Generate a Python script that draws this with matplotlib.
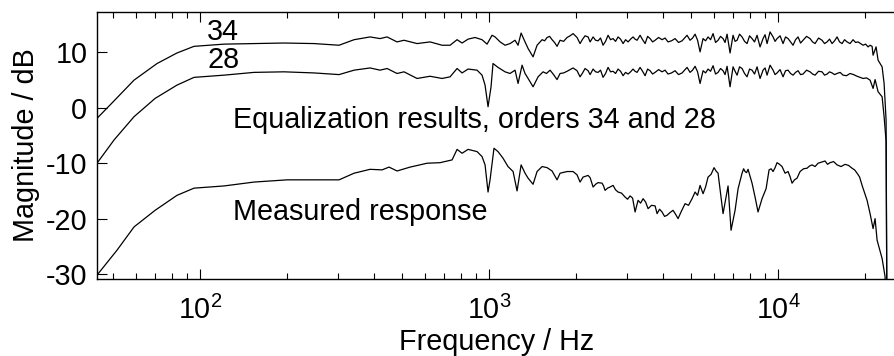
import matplotlib
matplotlib.use("Agg")
import matplotlib.pyplot as plt
from matplotlib.ticker import LogLocator, NullFormatter, FixedLocator

plt.rcParams["font.family"] = ["Liberation Sans", "DejaVu Sans"]
plt.rcParams["mathtext.fontset"] = "custom"
plt.rcParams["mathtext.rm"] = "Liberation Sans"
plt.rcParams["mathtext.it"] = "Liberation Sans:italic"
plt.rcParams["axes.unicode_minus"] = False

# Measured loudspeaker response
meas_hz = [44.0, 51.6, 59.1, 69.9, 83.2, 95.3, 121.1, 153.8, 200, 302.7,
           341.2, 387.5, 426.4, 450.8, 480.5, 533, 610.4, 676.9, 744.8, 775.1,
           806.6, 846, 908.7, 945.7, 968.7, 992.0, 1008, 1040, 1074, 1118,
           1163, 1211, 1250, 1291, 1332, 1365, 1420, 1466, 1526, 1588,
           1652, 1719, 1761, 1862, 1953, 2016, 2065, 2115, 2201, 2237,
           2291, 2383, 2460, 2520, 2622, 2686, 2795, 2955, 3076, 3201,
           3278, 3412, 3550, 3754, 3814, 3968, 4129, 4331, 4508, 4767,
           5040, 5162, 5372, 5502, 5725, 6005, 6200, 6452, 6714, 6876,
           7043, 7100, 7272, 7506, 7688, 7873, 8128, 8325, 8526, 8802,
           9090, 9308, 9610, 9920, 10323, 10573, 10829, 11179, 11633, 11915,
           12599, 13111, 13753, 14540, 15131, 16001, 17053, 18032, 18770, 19532,
           20324, 20815, 21320, 21662, 22012, 22908, 23460, 23646]
meas_db = [-30.2, -25.7, -21.5, -18.5, -15.8, -14.5, -14.1, -13.4, -13.0, -13.0,
           -11.8, -11.1, -11.2, -10.7, -11.4, -10.7, -10.0, -9.9, -9.4, -7.5,
           -8.2, -7.5, -7.9, -8.8, -10.3, -15.2, -13.0, -7.3, -7.9, -9.1,
           -10.6, -11.5, -15.0, -10.3, -11.8, -12.7, -13.8, -11.5, -10.6, -10.8,
           -11.4, -13.0, -11.8, -11.5, -11.5, -12.1, -13.4, -12.5, -12.2, -12.6,
           -14.3, -13.5, -13.6, -14.9, -14.3, -14.0, -15.2, -16.1, -15.9, -18.8,
           -16.7, -16.4, -18.2, -17.7, -19.1, -18.8, -19.4, -18.5, -20.0, -17.3,
           -16.4, -15.2, -14.0, -15.5, -12.5, -10.8, -11.8, -19.1, -14.1, -22.1,
           -19.4, -18.5, -14.6, -11.8, -11.5, -11.1, -13.6, -16.1, -18.8, -16.4,
           -14.6, -11.2, -11.5, -9.9, -10.6, -11.8, -11.5, -13.6, -12.7, -11.5,
           -10.9, -10.3, -10.0, -9.6, -9.9, -10.3, -10.2, -10.9, -11.8, -14.0,
           -16.7, -19.1, -21.8, -20.0, -23.9, -27.2, -30.5, -45.0]
# fine ripple between the main samples
meas_fine_hz = [2337, 2490, 2570, 2740, 2874, 3015, 3138, 3345, 3480, 3650,
                3890, 4048, 4230, 4418, 4635, 4900, 5266, 5612, 5865, 6100,
                7600, 7780, 9460, 9765, 10120, 10450, 11000, 11400, 12250, 12850,
                13430, 14140, 14830, 15560, 16520, 17540, 18400, 19150]
meas_fine_db = [-13.8, -14.1, -14.5, -14.8, -15.4, -16.5, -16.3, -17.2, -17.0, -17.6,
                -18.3, -19.6, -18.9, -19.2, -18.6, -17.6, -15.8, -14.3, -12.0, -11.4,
                -11.0, -11.7, -11.0, -10.8, -10.2, -11.2, -12.4, -13.0, -11.0, -10.5,
                -10.6, -9.8, -10.2, -9.7, -10.6, -10.4, -11.2, -12.5]

# Equalized response, filter order 34
eq34_hz = [44.0, 48.8, 59.1, 71.0, 83.2, 95.3, 121.1, 153.8, 195.3, 248,
           302.7, 341.2, 387.5, 419.6, 443.7, 480.5, 508.0, 563.5, 625.1, 687.8,
           733.1, 775.1, 806.6, 846, 894.3, 945.7, 984.2, 1024, 1049, 1092,
           1136, 1182, 1230, 1260, 1291, 1332, 1365, 1420, 1466, 1526,
           1588, 1652, 1719, 1761, 1862, 1953, 2016, 2065, 2149, 2201,
           2237, 2291, 2383, 2480, 2581, 2686, 2795, 2909, 3027, 3150,
           3252, 3331, 3467, 3608, 3754, 3968, 4162, 4401, 4654, 4843,
           4960, 5162, 5372, 5502, 5725, 5958, 6200, 6452, 6661, 6822,
           6987, 7214, 7506, 7811, 8128, 8459, 8664, 8873, 9162, 9382,
           9610, 9920, 10406, 10829, 11269, 11727, 12204, 12904, 13428, 14197,
           14775, 15376, 16001, 16651, 17328, 18174, 18920, 19687, 20486, 21151,
           21320, 21836, 22187, 22908, 23275, 23646, 23836]
eq34_db = [-1.9, 0.5, 5.0, 8.0, 9.9, 11.1, 11.5, 11.6, 11.7, 11.6,
           11.3, 12.3, 12.8, 12.5, 12.8, 11.9, 12.2, 11.6, 11.9, 11.3,
           11.3, 12.3, 11.7, 12.4, 12.7, 12.3, 11.5, 13.1, 12.8, 11.9,
           11.3, 11.6, 12.2, 11.3, 13.5, 11.9, 10.7, 9.2, 11.3, 12.3,
           12.7, 12.3, 11.1, 12.2, 12.7, 13.4, 12.7, 11.6, 13.0, 12.8,
           11.9, 12.8, 12.1, 11.3, 13.1, 12.5, 12.8, 11.6, 11.9, 12.8,
           12.2, 13.1, 11.6, 12.5, 12.2, 12.3, 11.9, 12.5, 12.1, 13.1,
           12.2, 13.3, 10.1, 12.5, 12.8, 13.4, 12.2, 12.5, 13.3, 9.9,
           13.1, 12.2, 12.8, 11.6, 12.5, 13.1, 11.0, 12.5, 11.6, 13.7,
           12.8, 12.5, 11.6, 12.5, 11.3, 12.8, 12.2, 12.5, 11.6, 12.2,
           11.9, 11.6, 12.8, 11.6, 11.9, 12.3, 11.9, 11.3, 11.0, 11.1,
           9.5, 11.0, 8.6, 7.4, 4.4, -2.2, -45.0]
eq34_fine_hz = [1557, 1620, 1685, 1811, 1907, 2107, 2337, 2431, 2530, 2633,
                2740, 2851, 2967, 3088, 3200, 3398, 3537, 3680, 3860, 4064,
                4280, 4526, 4748, 5060, 5266, 5612, 5840, 6078, 6324, 6555,
                7100, 7358, 7657, 7968, 8292, 9016, 9764, 10160, 10615, 11046,
                11496, 11963, 12549, 13163, 13807, 14483, 15072, 15686, 16323, 16986,
                17746, 18543, 19300, 20083, 20815]
eq34_fine_db = [12.1, 12.9, 11.8, 12.0, 13.0, 12.4, 12.2, 12.6, 12.0, 12.3,
                12.0, 12.4, 12.3, 12.4, 12.4, 12.3, 12.9, 11.9, 12.7, 12.6,
                12.1, 11.8, 12.6, 12.6, 12.2, 12.1, 12.3, 11.8, 12.9, 11.8,
                12.0, 13.3, 12.0, 13.0, 11.9, 13.2, 12.0, 13.0, 12.8, 11.9,
                12.3, 11.7, 12.9, 11.9, 12.6, 11.6, 12.4, 12.1, 11.9, 12.3,
                11.6, 11.8, 11.6, 11.5, 11.3]

# Equalized response, filter order 28
eq28_hz = [44.0, 50.4, 59.1, 69.9, 83.2, 95.3, 121.1, 153.8, 195.3, 248,
           302.7, 341.2, 387.5, 419.6, 443.7, 480.5, 508.0, 563.5, 625.1, 687.8,
           733.1, 775.1, 806.6, 846, 908.7, 945.7, 968.7, 992.0, 1016, 1032,
           1074, 1136, 1182, 1230, 1260, 1301, 1332, 1365, 1420, 1478,
           1538, 1626, 1719, 1761, 1862, 1953, 2016, 2065, 2149, 2201,
           2237, 2291, 2383, 2480, 2581, 2686, 2795, 2909, 3027, 3150,
           3252, 3331, 3467, 3608, 3754, 3968, 4162, 4401, 4654, 4843,
           4960, 5162, 5372, 5502, 5725, 5958, 6200, 6452, 6661, 6822,
           6987, 7214, 7506, 7811, 8128, 8459, 8664, 8873, 9162, 9382,
           9610, 9920, 10406, 10829, 11269, 11727, 12204, 12904, 13428, 14197,
           14775, 15376, 16001, 16784, 17745, 18770, 19687, 20815, 21320, 21662,
           22187, 22908, 23275, 23646, 23836]
eq28_db = [-10.0, -5.8, -1.6, 1.7, 4.1, 5.5, 5.9, 6.4, 6.5, 6.3,
           6.0, 6.8, 7.2, 6.8, 7.1, 6.2, 6.5, 5.3, 5.7, 5.3,
           5.6, 7.1, 6.3, 7.0, 6.8, 5.9, 4.1, 0.2, 3.8, 8.0,
           7.3, 6.5, 6.2, 6.8, 4.4, 7.7, 6.2, 5.3, 3.8, 5.6,
           6.5, 6.8, 5.1, 6.2, 6.6, 7.2, 6.7, 5.6, 7.1, 6.7,
           6.0, 7.0, 6.4, 5.5, 7.3, 6.6, 7.0, 5.8, 6.1, 7.0,
           6.4, 7.3, 5.8, 6.7, 6.4, 6.5, 6.1, 6.7, 6.3, 7.3,
           6.4, 7.5, 4.4, 6.7, 7.0, 7.6, 6.4, 6.7, 7.5, 3.8,
           7.4, 5.9, 7.1, 5.6, 6.8, 7.4, 5.3, 6.8, 5.9, 7.7,
           6.8, 6.3, 5.6, 6.8, 5.9, 6.7, 6.1, 6.5, 5.9, 6.5,
           6.1, 6.3, 6.2, 5.9, 6.2, 5.7, 5.3, 5.0, 3.5, 5.1,
           2.9, 2.0, -1.6, -6.0, -45.0]
eq28_fine_hz = [1580, 1672, 1811, 1907, 2107, 2337, 2431, 2530, 2633, 2740,
                2851, 2967, 3088, 3200, 3398, 3537, 3680, 3860, 4064, 4280,
                4526, 4748, 5060, 5266, 5612, 5840, 6078, 6324, 6555, 7100,
                7358, 7657, 7968, 8292, 9016, 9764, 10160, 10615, 11046, 11496,
                11963, 12549, 13163, 13807, 14483, 15072, 15686, 16392, 17250, 18250,
                19220, 20240]
eq28_fine_db = [6.2, 6.0, 6.3, 6.9, 6.3, 6.5, 6.8, 6.2, 6.5, 6.2,
                6.6, 6.4, 6.5, 6.6, 6.6, 7.0, 6.1, 6.9, 6.8, 6.3,
                6.0, 6.8, 6.8, 6.5, 6.3, 6.6, 6.1, 7.1, 6.0, 6.6,
                7.4, 6.2, 7.0, 6.1, 7.2, 6.0, 6.9, 6.7, 6.2, 6.4,
                6.0, 6.8, 6.1, 6.6, 5.9, 6.5, 6.0, 6.4, 5.8, 6.0,
                5.5, 5.4]

y_ticks = [-30, -20, -10, 0, 10]


def merged(hz, db, fine_hz, fine_db):
    pts = sorted(zip(list(hz) + list(fine_hz), list(db) + list(fine_db)))
    return [p[0] for p in pts], [p[1] for p in pts]


fig = plt.figure(figsize=(8.94, 3.56), dpi=100)
ax = fig.add_axes([97 / 894, 77 / 356, 799 / 894, 267 / 356])

for series in [(eq34_hz, eq34_db, eq34_fine_hz, eq34_fine_db),
               (eq28_hz, eq28_db, eq28_fine_hz, eq28_fine_db),
               (meas_hz, meas_db, meas_fine_hz, meas_fine_db)]:
    x, y = merged(*series)
    ax.plot(x, y, color="black", lw=0.9)

ax.set_xscale("log")
ax.set_xlim(44.0, 25590)
ax.set_ylim(-30.9, 17.3)
ax.yaxis.set_major_locator(FixedLocator(y_ticks))
ax.xaxis.set_major_locator(LogLocator(base=10, numticks=10))
ax.xaxis.set_minor_locator(LogLocator(base=10, subs=range(2, 10), numticks=10))
ax.xaxis.set_minor_formatter(NullFormatter())

ax.tick_params(which="both", direction="in", top=True, right=False,
               labelsize=20.7, width=0.8, color="black")
ax.tick_params(which="major", length=7)
ax.tick_params(axis="y", which="major", pad=7)
ax.tick_params(axis="x", which="major", pad=12)
ax.tick_params(which="minor", length=4)
for sp in ax.spines.values():
    sp.set_linewidth(1.0)

ax.set_xlabel("Frequency / Hz", fontsize=20.7, labelpad=2)
ax.set_ylabel("Magnitude / dB", fontsize=20.7, labelpad=4)

ax.text(105.7, 12.2, "34", fontsize=20.7, ha="left", va="baseline")
ax.text(105.7, 7.2, "28", fontsize=20.7, ha="left", va="baseline")
ax.text(130, -3.7, "Equalization results, orders 34 and 28", fontsize=20.7,
        ha="left", va="baseline")
ax.text(130, -20.3, "Measured response", fontsize=20.7, ha="left", va="baseline")

fig.savefig("out.png", dpi=100)
